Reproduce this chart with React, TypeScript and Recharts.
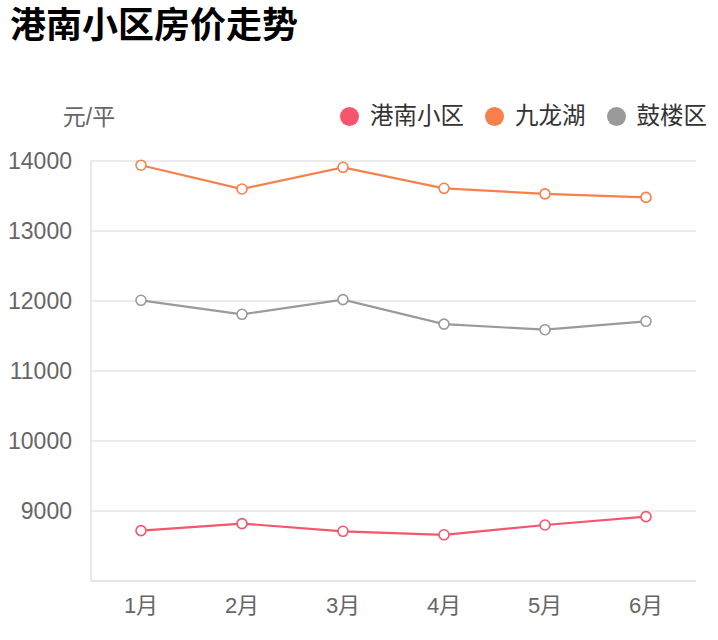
import React from 'react';
import { LineChart, Line, XAxis, YAxis, CartesianGrid } from 'recharts';

const months = ['1月', '2月', '3月', '4月', '5月', '6月'];
const gangnan = [8720, 8820, 8710, 8660, 8800, 8920];
const jiulonghu = [13940, 13600, 13910, 13610, 13530, 13480];
const gulou = [12010, 11810, 12020, 11670, 11590, 11710];
const yTicks = [9000, 10000, 11000, 12000, 13000, 14000];

const seriesList = [
  { key: 'gangnan', name: '港南小区', color: '#f5566d' },
  { key: 'jiulonghu', name: '九龙湖', color: '#f7804c' },
  { key: 'gulou', name: '鼓楼区', color: '#9a9a9a' },
];

const FONT = 'Liberation Sans, Arial, "Noto Sans CJK SC", sans-serif';

function LegendBox() {
  return (
    <div style={{ position: 'absolute', right: 11, top: 101, display: 'flex', alignItems: 'center', fontFamily: FONT, fontSize: 23.5, color: '#333', lineHeight: '30px' }}>
      {seriesList.map((s, i) => (
        <div key={s.key} style={{ display: 'flex', alignItems: 'center', marginLeft: i === 0 ? 0 : 21 }}>
          <span style={{ width: 19, height: 19, borderRadius: '50%', background: s.color, display: 'inline-block', marginRight: 11 }} />
          <span>{s.name}</span>
        </div>
      ))}
    </div>
  );
}

export default function App() {
  const data = months.map((m, i) => ({
    month: m,
    gangnan: gangnan[i],
    jiulonghu: jiulonghu[i],
    gulou: gulou[i],
  }));

  return (
    <div style={{ position: 'absolute', left: 0, top: 0, width: 718, height: 640, background: '#fff', fontFamily: FONT }}>
      <div style={{ position: 'absolute', left: 10, top: 4, fontSize: 36, fontWeight: 'bold', color: '#000', lineHeight: '44px' }}>
        港南小区房价走势
      </div>
      <LegendBox />
      <LineChart width={718} height={640} data={data} margin={{ top: 161, right: 22, bottom: 19, left: 0 }}>
        <CartesianGrid vertical={false} stroke="#e6e6e6" strokeWidth={1.5} />
        <XAxis
          dataKey="month"
          padding={{ left: 50, right: 50 }}
          axisLine={{ stroke: '#e2e2e2', strokeWidth: 1.5 }}
          tickLine={false}
          tickSize={0}
          tickMargin={16}
          height={40}
          tick={{ fill: '#666', fontSize: 22, fontFamily: FONT }}
        />
        <YAxis
          domain={[8000, 14000]}
          ticks={yTicks}
          interval={0}
          width={91}
          axisLine={{ stroke: '#e2e2e2', strokeWidth: 1.5 }}
          tickLine={false}
          tickSize={0}
          tickMargin={19}
          tick={{ fill: '#666', fontSize: 23, fontFamily: FONT }}
          label={(props: any) => {
            const vb = props.viewBox || {};
            return (
              <text x={(vb.x || 0) + (vb.width || 0) - 2} y={(vb.y || 0) - 44} textAnchor="middle" dominantBaseline="central" fill="#666" fontSize={23} fontFamily={FONT}>
                元/平
              </text>
            );
          }}
        />
        {seriesList.map((s) => (
          <Line
            key={s.key}
            type="linear"
            dataKey={s.key}
            name={s.name}
            stroke={s.color}
            strokeWidth={2.2}
            dot={{ r: 5, fill: '#fff', stroke: s.color, strokeWidth: 1.6 }}
            isAnimationActive={false}
          />
        ))}
      </LineChart>
    </div>
  );
}
